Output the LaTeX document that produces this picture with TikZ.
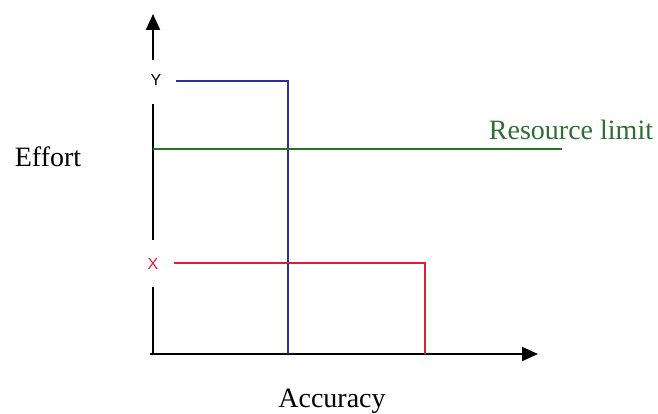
\documentclass[tikz,border=0pt]{standalone}
\usepackage{fontspec}
\setmainfont{Liberation Serif}
\newfontfamily\labsans{Liberation Sans}
\usetikzlibrary{arrows.meta}
\definecolor{cblue}{RGB}{45,45,160}
\definecolor{cred}{RGB}{222,30,55}
\definecolor{cgreen}{RGB}{35,115,45}
\definecolor{cgtext}{RGB}{45,110,50}
\tikzset{
  axisline/.style={line width=2pt, black},
  axisarrow/.style={axisline, -{Triangle[length=16pt,width=14pt]}},
  curve/.style={line width=1.8pt},
  bigtext/.style={font=\fontsize{28}{31}\selectfont, inner sep=0pt},
  smalllab/.style={font=\labsans\fontsize{16}{18}\selectfont, inner sep=0pt}
}
\begin{document}
\begin{tikzpicture}[x=1pt,y=-1pt]
\useasboundingbox (0,0) rectangle (658,414);
% axis coordinates
\coordinate (ytip) at (153,14);
\coordinate (ytop) at (153,60);
\coordinate (ya) at (153,104);
\coordinate (yb) at (153,240);
\coordinate (yc) at (153,287);
\coordinate (origin) at (153,354);
\coordinate (xstart) at (150,354);
\coordinate (xtip) at (538,354);
% labels
\node[smalllab] (ylab) at (156,80) {Y};
\node[smalllab, text=cred] (xlab) at (153,264) {X};
\node[bigtext] (effort) at (48,157) {Effort};
\node[bigtext] (accuracy) at (332,401) {Accuracy};
\node[bigtext, text=cgtext] (reslab) at (571,130) {Resource limit};
% axes
\draw[axisarrow] (ytop) -- (ytip);
\draw[axisline] (ya) -- (yb);
\draw[axisline] (yc) -- (origin);
\draw[axisarrow] (xstart) -- (xtip);
% curves
\coordinate (b1) at (176,81);
\coordinate (b2) at (288,81);
\coordinate (b3) at (288,354);
\draw[curve, cblue] (b1) -- (b2) -- (b3);
\coordinate (r1) at (174,263);
\coordinate (r2) at (425,263);
\coordinate (r3) at (425,354);
\draw[curve, cred] (r1) -- (r2) -- (r3);
\coordinate (g1) at (153,149);
\coordinate (g2) at (562,149);
\draw[curve, cgreen] (g1) -- (g2);
\end{tikzpicture}
\end{document}
